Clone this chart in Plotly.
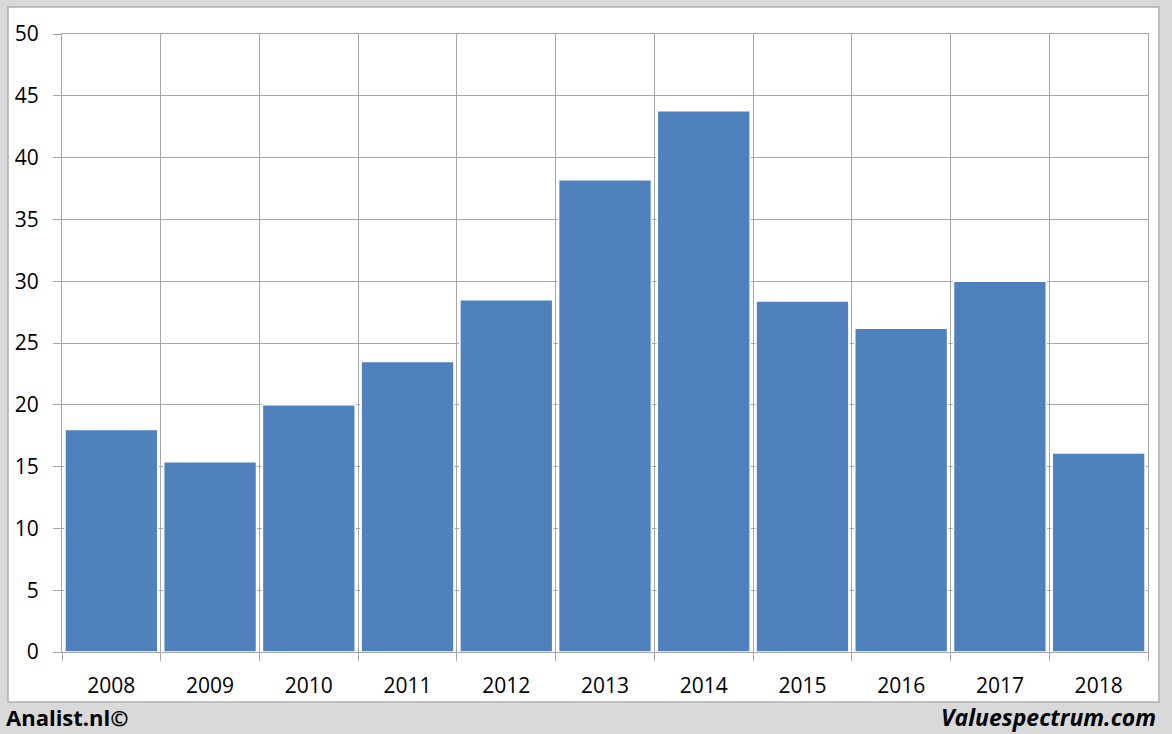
import plotly.graph_objects as go

years = ["2008", "2009", "2010", "2011", "2012", "2013", "2014", "2015", "2016", "2017", "2018"]
values = [18.0, 15.4, 20.0, 23.5, 28.5, 38.2, 43.8, 28.4, 26.2, 30.0, 16.1]
y_ticks = [0, 5, 10, 15, 20, 25, 30, 35, 40, 45, 50]

W, H = 1172, 734
L, R, T, B = 62, 24, 34, 82
pw, ph = W - L - R, H - T - B

def px(x):
    return (x - L) / pw

def py(y):
    return (H - B - y) / ph

FONT = "Open Sans, Liberation Sans, sans-serif"

fig = go.Figure()
fig.add_trace(go.Bar(
    x=years, y=values,
    marker=dict(color="#4f81bd", line=dict(color="white", width=1.5)),
    width=0.94,
))

grid = "#a6a6a6"
fig.update_layout(
    width=W, height=H,
    margin=dict(l=L, r=R, t=T, b=B),
    paper_bgcolor="#d9d9d9",
    plot_bgcolor="white",
    showlegend=False,
    font=dict(family=FONT, color="#000000", size=22),
    xaxis=dict(
        type="category", tickson="boundaries", ticks="outside", ticklen=8,
        tickcolor=grid, showgrid=True, gridcolor=grid, gridwidth=1,
        showline=True, linecolor=grid, mirror=True,
        range=[-0.5, 10.5], tickfont=dict(size=21), ticklabelstandoff=15,
    ),
    yaxis=dict(
        range=[0, 50], tickvals=y_ticks, ticks="outside", ticklen=8,
        tickcolor=grid, showgrid=True, gridcolor=grid, gridwidth=1,
        showline=True, linecolor=grid, mirror=True, zeroline=False,
        tickfont=dict(size=21), ticklabelstandoff=10,
    ),
    shapes=[dict(
        type="rect", xref="paper", yref="paper", layer="below",
        x0=px(8), x1=px(1159), y0=py(702), y1=py(7),
        fillcolor="white", line=dict(color="#b0b0b0", width=1.5),
    )],
    annotations=[
        dict(text="<b>Analist.nl©</b>", xref="paper", yref="paper",
             x=px(4), y=py(717), xanchor="left", yanchor="middle", showarrow=False,
             font=dict(size=22, family=FONT)),
        dict(text="<b><i>Valuespectrum.com</i></b>", xref="paper", yref="paper",
             x=px(1158), y=py(717), xanchor="right", yanchor="middle", showarrow=False,
             font=dict(size=23, family=FONT)),
    ],
)

fig.write_html(
    "out.html",
    config={"displayModeBar": False},
    post_script="document.body.style.margin='0';document.body.style.background='#d9d9d9';",
)
